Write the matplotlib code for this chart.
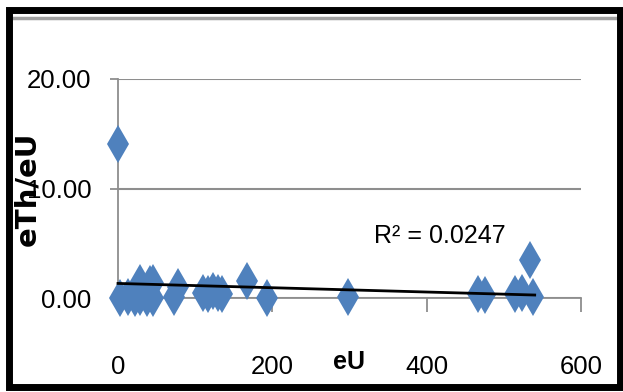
import numpy as np
import matplotlib
matplotlib.use('Agg')
import matplotlib.pyplot as plt
from matplotlib import font_manager
from matplotlib.patches import Rectangle
from matplotlib.lines import Line2D

# ----------------------------------------------------------------------
# dados
# ----------------------------------------------------------------------
eU = [0, 3, 13, 22, 29, 37, 45, 28, 41, 45, 78, 72,
      110, 117, 123, 130, 135, 167, 193, 298,
      466, 476, 514, 524, 538, 534]
eTh_eU = [14.1, 0.0, 0.1, 0.0, 0.1, 0.0, 0.0, 1.4, 1.3, 1.4, 1.0, 0.1,
          0.5, 0.4, 0.6, 0.5, 0.4, 1.55, 0.0, 0.1,
          0.35, 0.3, 0.4, 0.5, 0.1, 3.45]

TREND_X = [0, 540]            # faixa da linha de tendencia
TREND_COEF = (-0.00196, 1.33)  # inclinacao, intercepto
R2_TEXT = 'R\u00b2 = 0.0247'

X_TICKS = [0, 200, 400, 600]
Y_TICKS = [0, 10, 20]
Y_TICKLABELS = ['0.00', '10.00', '20.00']

BLUE = '#4f81bd'
GRID = '#8e8e8e'

names = {f.name for f in font_manager.fontManager.ttflist}
NARROW = 'Liberation Sans Narrow' if 'Liberation Sans Narrow' in names else 'Liberation Sans'

# ----------------------------------------------------------------------
W, H = 623, 392
fig = plt.figure(figsize=(W / 100, H / 100), dpi=100)
fig.patch.set_facecolor('white')

# area do grafico (pixels do original)
L, R, T, B = 118, 581, 79, 298
ax = fig.add_axes([L / W, 1 - B / H, (R - L) / W, (B - T) / H])

ax.plot(eU, eTh_eU, linestyle='none', marker='d', ms=19.4, color=BLUE,
        markeredgewidth=0, clip_on=False, zorder=3)

tx = np.array(TREND_X, dtype=float)
ax.plot(tx, np.polyval(TREND_COEF, tx), color='black', lw=2.0,
        clip_on=False, zorder=4)

ax.set_xlim(0, 600)
ax.set_ylim(0, 20)
ax.set_xticks(X_TICKS)
ax.set_xticklabels([str(v) for v in X_TICKS])
ax.set_yticks(Y_TICKS)
ax.set_yticklabels(Y_TICKLABELS)

for s in ('top', 'right'):
    ax.spines[s].set_visible(False)
for s in ('left', 'bottom'):
    ax.spines[s].set_color(GRID)
    ax.spines[s].set_linewidth(1.3)
ax.yaxis.grid(True, color=GRID, lw=1.5)
ax.set_axisbelow(True)

ax.tick_params(axis='y', length=6, width=1.3, color=GRID, pad=13,
               labelsize=18.5)
ax.tick_params(axis='x', length=10, width=1.3, color=GRID, pad=31,
               labelsize=18.5)
for lab in ax.get_xticklabels() + ax.get_yticklabels():
    lab.set_fontfamily(NARROW)

ax.set_xlabel('eU', fontsize=18, fontweight='bold', fontfamily=NARROW)
ax.xaxis.set_label_coords(0.5, -0.292)
ax.xaxis.label.set_verticalalignment('center')

ax.set_ylabel('eTh/eU', fontsize=21, fontweight='bold', fontfamily='DejaVu Sans')
ax.yaxis.set_label_coords(-0.195, 0.5)
ax.yaxis.label.set_verticalalignment('center')

ax.text(0.695, 0.283, R2_TEXT, transform=ax.transAxes, ha='center',
        va='center', fontsize=18, fontfamily=NARROW, zorder=5)

# moldura preta externa + filete cinza no topo
px = lambda x, y: (x / W, 1 - y / H)
x0, y0 = px(8.5, 386.5)
x1, y1 = px(620, 9.5)
fig.patches.append(Rectangle((x0, y0), x1 - x0, y1 - y0, transform=fig.transFigure,
                             fill=False, edgecolor='black', lw=5.0, zorder=10))
fig.lines.append(Line2D([12 / W, 617 / W], [1 - 17.5 / H] * 2,
                        transform=fig.transFigure, color='#a0a0a0', lw=2.5))

fig.savefig('out.png', dpi=100, facecolor='white')
